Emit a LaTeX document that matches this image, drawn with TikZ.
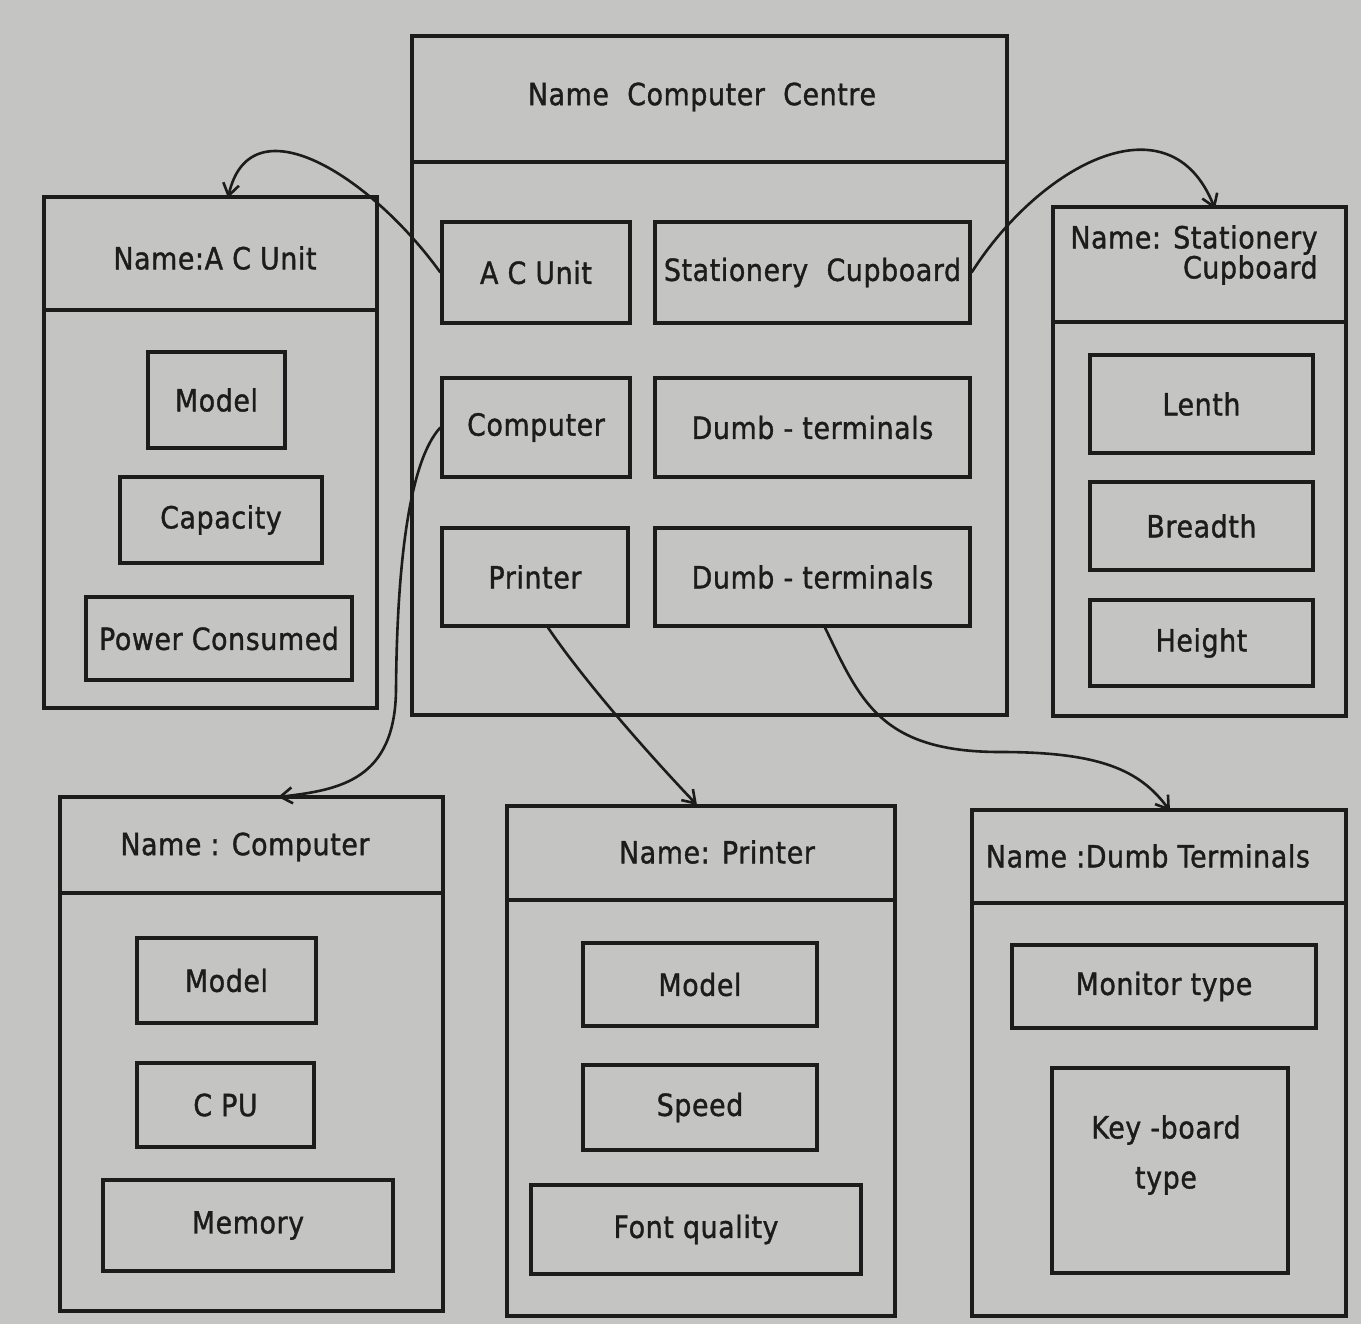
\documentclass[tikz,border=0pt]{standalone}
\usepackage{fontspec}
\setmainfont{DejaVu Sans}[FakeStretch=0.88, FakeBold=1.2, LetterSpace=2]
\usetikzlibrary{arrows.meta}
\definecolor{paper}{RGB}{196,196,194}
\definecolor{ink}{RGB}{28,28,28}
\begin{document}
\begin{tikzpicture}[x=1pt,y=-1pt,
    frame/.style={draw=ink, line width=3.4pt, inner sep=0pt},
    slot/.style={draw=ink, line width=3.2pt, inner sep=0pt},
    link/.style={draw=ink, line width=2.6pt, -{Straight Barb[length=12pt,width=16pt]}},
    font=\fontsize{30.5}{35}\selectfont, text=ink]
    \fill[paper] (0,0) rectangle (1361,1324);
    \useasboundingbox (0,0) rectangle (1361,1324);

    % Computer Centre frame
    \node[frame, minimum width=595, minimum height=679] (ccframe) at (709.5,375.5) {};
    \draw[ink, line width=3.4pt] (412,162) -- (1007,162);
    \node (cctitle) at (702,97) {Name~~Computer~~Centre};
    \node[slot, minimum width=188, minimum height=101] (acslot) at (536,272.5) {A C Unit};
    \node[slot, minimum width=315, minimum height=101] (stslot) at (812.5,272.5) {Stationery~~Cupboard};
    \node[slot, minimum width=188, minimum height=99] (compslot) at (536,427.5) {Computer};
    \node[slot, minimum width=315, minimum height=99] (dumbslota) at (812.5,427.5) {Dumb - terminals};
    \node[slot, minimum width=186, minimum height=98] (prslot) at (535,577) {Printer};
    \node[slot, minimum width=315, minimum height=98] (dumbslotb) at (812.5,577) {Dumb - terminals};

    % A C Unit frame
    \node[frame, minimum width=333, minimum height=511] (acframe) at (210.5,452.5) {};
    \draw[ink, line width=3.4pt] (44,310) -- (377,310);
    \node (actitle) at (215,258) {Name:A C Unit};
    \node[slot, minimum width=137, minimum height=96] (acmodel) at (216.5,400) {Model};
    \node[slot, minimum width=202, minimum height=86] (accap) at (221,520) {Capacity};
    \node[slot, minimum width=266, minimum height=83] (acpower) at (219,638.5) {Power Consumed};

    % Stationery Cupboard frame
    \node[frame, minimum width=293, minimum height=509] (stframe) at (1199.5,461.5) {};
    \draw[ink, line width=3.4pt] (1053,322) -- (1346,322);
    \node[align=right, font=\fontsize{30.5}{30}\selectfont] (sttitle) at (1194,255) {Name: Stationery\\Cupboard};
    \node[slot, minimum width=223, minimum height=98] (stlen) at (1201.5,404) {Lenth};
    \node[slot, minimum width=223, minimum height=88] (stbreadth) at (1201.5,526) {Breadth};
    \node[slot, minimum width=223, minimum height=86] (stheight) at (1201.5,643) {Height};

    % Computer frame
    \node[frame, minimum width=383, minimum height=514] (compframe) at (251.5,1054) {};
    \draw[ink, line width=3.4pt] (60,893) -- (443,893);
    \node (comptitle) at (245,847) {Name : Computer};
    \node[slot, minimum width=179, minimum height=85] (compmodel) at (226.5,980.5) {Model};
    \node[slot, minimum width=177, minimum height=84] (compcpu) at (225.5,1105) {C PU};
    \node[slot, minimum width=290, minimum height=91] (compmem) at (248,1225.5) {Memory};

    % Printer frame
    \node[frame, minimum width=388, minimum height=510] (prframe) at (701,1061) {};
    \draw[ink, line width=3.4pt] (507,900) -- (895,900);
    \node (prtitle) at (717,852) {Name: Printer};
    \node[slot, minimum width=234, minimum height=83] (prmodel) at (700,984.5) {Model};
    \node[slot, minimum width=234, minimum height=85] (prspeed) at (700,1107.5) {Speed};
    \node[slot, minimum width=330, minimum height=89] (prfont) at (696,1229.5) {Font quality};

    % Dumb Terminals frame
    \node[frame, minimum width=374, minimum height=506] (dtframe) at (1159,1063) {};
    \draw[ink, line width=3.4pt] (972,903) -- (1346,903);
    \node (dttitle) at (1148,856) {Name :Dumb Terminals};
    \node[slot, minimum width=304, minimum height=83] (dtmonitor) at (1164,986.5) {Monitor type};
    \node[slot, minimum width=236, minimum height=205] (dtkey) at (1170,1170.5) {};
    \node[align=center, font=\fontsize{30.5}{50}\selectfont] (dtkeytext) at (1166,1155) {Key -board\\type};

    % slot links
    \coordinate (acin) at (228,198);
    \coordinate (stin) at (1215,209);
    \coordinate (compin) at (278,797);
    \coordinate (prin) at (697,805);
    \coordinate (dtin) at (1170,811);
    \draw[link] (acslot.west) .. controls (370,175) and (250,100) .. (acin);
    \draw[link] (stslot.east) .. controls (1040,165) and (1170,95) .. (stin);
    \draw[link] (compslot.west) .. controls (410,460) and (397,560) .. (396,690)
        .. controls (395,780) and (340,790) .. (compin);
    \draw[link] (prslot.south -| 548,0) .. controls (580,675) and (640,745) .. (prin);
    \draw[link] (dumbslotb.south -| 825,0) .. controls (860,700) and (880,752) .. (1000,752)
        .. controls (1100,752) and (1140,770) .. (dtin);
\end{tikzpicture}
\end{document}
